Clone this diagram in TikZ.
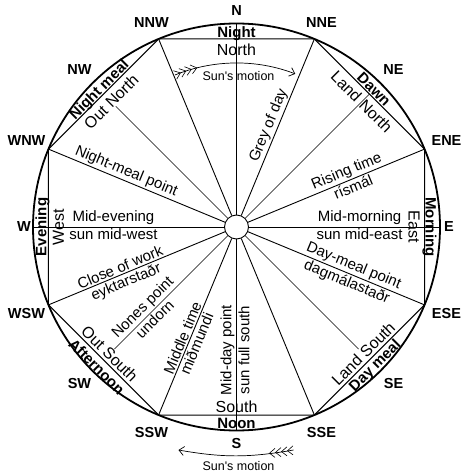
\documentclass[tikz,border=0pt]{standalone}
\usepackage{fontspec}
\setmainfont{Liberation Sans}
\usetikzlibrary{arrows,arrows.meta}

\tikzset{
  compass/.style={font=\fontsize{14.5}{16}\selectfont\bfseries, inner sep=0pt},
  band/.style={font=\fontsize{15}{17}\selectfont\bfseries, inner sep=0pt, anchor=base},
  quarter/.style={font=\fontsize{16}{18}\selectfont, inner sep=0.5pt, anchor=base},
  hour/.style={font=\fontsize{15}{17}\selectfont, inner sep=1.5pt, sloped},
  motion/.style={font=\fontsize{12.5}{14}\selectfont, inner sep=0pt, anchor=base},
  rim/.style={line width=1.8pt},
  chord/.style={line width=1pt},
  spoke/.style={line width=0.9pt},
  thinspoke/.style={line width=0.6pt},
  feather/.style={line width=0.6pt},
}

\begin{document}
\begin{tikzpicture}[x=1pt, y=1pt, >={Straight Barb[length=5pt, width=9pt]}]
  \useasboundingbox (-236.5,-249) rectangle (236.5,227);

  \coordinate (pN) at (90:203.5);
  \coordinate (pNNE) at (67.5:203.5);
  \coordinate (pENE) at (22.5:203.5);
  \coordinate (pE) at (0:203.5);
  \coordinate (pESE) at (-22.5:203.5);
  \coordinate (pSSE) at (-67.5:203.5);
  \coordinate (pS) at (-90:203.5);
  \coordinate (pSSW) at (-112.5:203.5);
  \coordinate (pWSW) at (-157.5:203.5);
  \coordinate (pW) at (180:203.5);
  \coordinate (pWNW) at (157.5:203.5);
  \coordinate (pNNW) at (112.5:203.5);
  \coordinate (mNE) at (45:188);

  \draw [rim] (0,0) circle (203.5);
  \node (hub) [circle, draw, spoke, minimum size=24pt, inner sep=0pt] at (0,0) {};

  \draw [chord] (pNNW) -- (pNNE) -- (pENE) -- (pESE) -- (pSSE) -- (pSSW) -- (pWSW) -- (pWNW) -- cycle;

  % the eight quarters, inside the chords
  \node (qN) [quarter] at (90:171.5) {North};
  \node (qNE) [quarter, rotate=-45] at (45:171.5) {Land North};
  \node (qE) [quarter, rotate=-90] at (0:172) {East};
  \node (qSE) [quarter, rotate=45] at (-45:185) {Land South};
  \node (qS) [quarter] at (-90:185.2) {South};
  \node (qSW) [quarter, rotate=-45] at (-135:185) {Out South};
  \node (qW) [quarter, rotate=90] at (180:172.5) {West};
  \node (qNW) [quarter, rotate=45] at (135:171.5) {Out North};

  % day marks, between chord and rim
  \node (bN) [band] at (90:189.3) {Night};
  \node (bNE) [band, rotate=-45] at (45:189.3) {Dawn};
  \node (bE) [band, rotate=-90] at (0:189) {Morning};
  \node (bSE) [band, rotate=45] at (-45:200.5) {Day meal};
  \node (bS) [band] at (-90:201.5) {Noon};
  \node (bSW) [band, rotate=-45] at (-135:203) {Afternoon};
  \node (bW) [band, rotate=90] at (180:190) {Evening};
  \node (bNW) [band, rotate=45] at (135:189.5) {Night meal};

  \draw [spoke] (hub) -- (pN);
  \draw [spoke] (hub) -- (pNNE) node (h1) [hour, pos=0.49, above] {Grey of day};
  \draw [thinspoke] (hub) -- (mNE);
  \draw [spoke] (hub) -- (pENE)
    node (h2a) [hour, pos=0.579, above] {Rising time}
    node (h2b) [hour, pos=0.579, below] {rísmál};
  \draw [spoke] (hub) -- (pE)
    node (h3a) [hour, pos=0.579, above] {Mid-morning}
    node (h3b) [hour, pos=0.579, below] {sun mid-east};
  \draw [spoke] (hub) -- (pESE)
    node (h4a) [hour, pos=0.579, above] {Day-meal point}
    node (h4b) [hour, pos=0.579, below] {dagmálastaðr};
  \draw [thinspoke] (hub) -- (qSE);
  \draw [spoke] (hub) -- (pSSE);
  \draw [spoke] (pS) -- (hub)
    node (h5a) [hour, pos=0.421, above] {Mid-day point}
    node (h5b) [hour, pos=0.421, below] {sun full south};
  \draw [spoke] (pSSW) -- (hub)
    node (h6a) [hour, pos=0.421, above] {Middle time}
    node (h6b) [hour, pos=0.421, below] {miðmundi};
  \draw [thinspoke] (qSW) -- (hub)
    node (h7a) [hour, pos=0.31, above] {Nones point}
    node (h7b) [hour, pos=0.31, below] {undorn};
  \draw [spoke] (pWSW) -- (hub)
    node (h8a) [hour, pos=0.421, above] {Close of work}
    node (h8b) [hour, pos=0.421, below] {eyktarstaðr};
  \draw [spoke] (pW) -- (hub)
    node (h9a) [hour, pos=0.421, above] {Mid-evening}
    node (h9b) [hour, pos=0.421, below] {sun mid-west};
  \draw [spoke] (pWNW) -- (hub) node (h10) [hour, pos=0.421, above] {Night-meal point};
  \draw [thinspoke] (qNW) -- (hub);
  \draw [spoke] (hub) -- (pNNW);

  % compass points
  \node (cN) [compass] at (0,216) {N};
  \node (cNNE) [compass] at (85,204.5) {NNE};
  \node (cNE) [compass] at (157,157) {NE};
  \node (cENE) [compass] at (210,86) {ENE};
  \node (cE) [compass] at (212.5,0) {E};
  \node (cESE) [compass] at (210,-87) {ESE};
  \node (cSE) [compass] at (157,-157) {SE};
  \node (cSSE) [compass] at (85,-205.5) {SSE};
  \node (cS) [compass] at (0,-217) {S};
  \node (cSSW) [compass] at (-85,-205.5) {SSW};
  \node (cSW) [compass] at (-157,-157) {SW};
  \node (cWSW) [compass] at (-210,-87) {WSW};
  \node (cW) [compass] at (-212.5,0) {W};
  \node (cWNW) [compass] at (-210,86) {WNW};
  \node (cNW) [compass] at (-157,157) {NW};
  \node (cNNW) [compass] at (-85,204.5) {NNW};

  % sun's motion, inside at the top
  \draw [->, line width=0.7pt] (112:164) arc [start angle=112, end angle=69, radius=164];
  \draw [feather] (106:168.5) -- (104:164) -- (106:159.5);
  \draw [feather] (108:168.5) -- (106:164) -- (108:159.5);
  \draw [feather] (110:168.5) -- (108:164) -- (110:159.5);
  \draw [feather] (112:168.5) -- (110:164) -- (112:159.5);
  \node (sun1) [motion] at (2,146.5) {Sun\textquotesingle s motion};

  % and outside at the bottom
  \coordinate (sunR) at (57,-223);
  \coordinate (sunL) at (-58,-223);
  \draw [->, line width=0.7pt] (sunR) to [bend left=10] (sunL);
  \draw [feather] (38.5,-221.4) -- (33,-226.2) -- (38.5,-230.4);
  \draw [feather] (44.5,-220.6) -- (39,-225.4) -- (44.5,-229.6);
  \draw [feather] (50.5,-219.8) -- (45,-224.6) -- (50.5,-228.8);
  \draw [feather] (56.5,-218.8) -- (51,-223.8) -- (56.5,-227.8);
  \node (sun2) [motion] at (2,-243) {Sun\textquotesingle s motion};
\end{tikzpicture}
\end{document}
